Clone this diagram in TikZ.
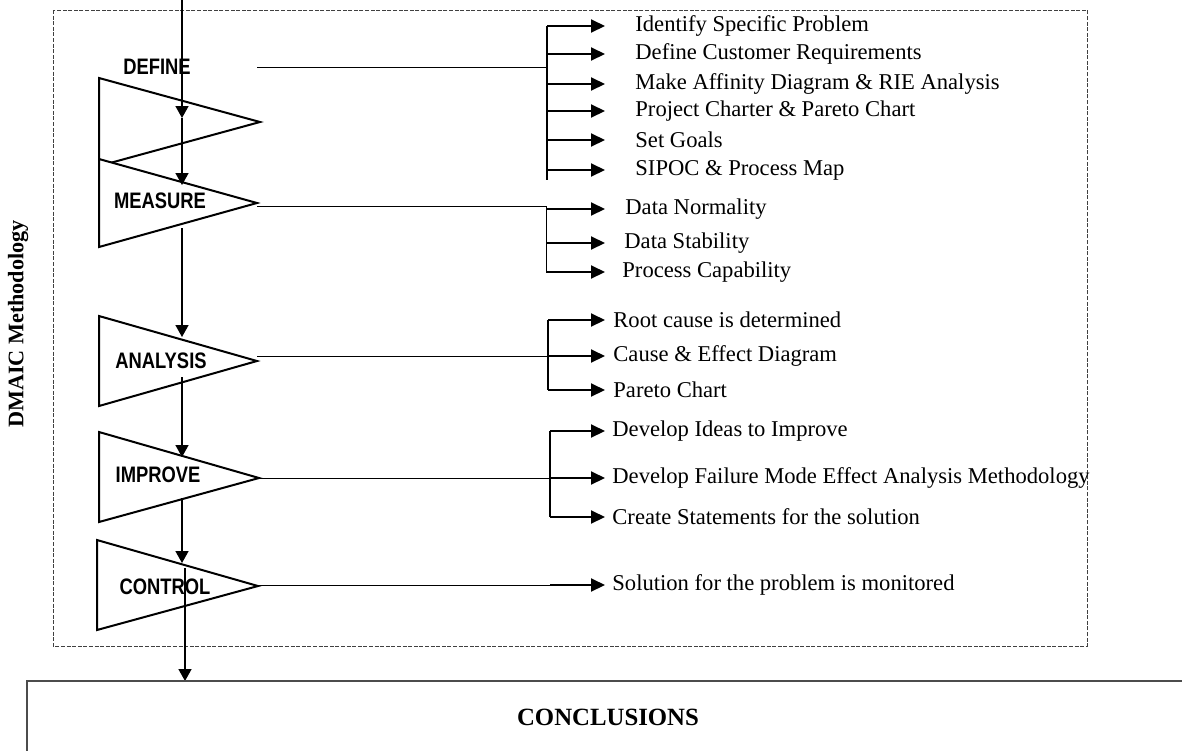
\documentclass[tikz,border=0pt]{standalone}
\usepackage{fontspec}
\setmainfont{Liberation Serif}
\newfontfamily\stagefont[FakeStretch=0.82]{Liberation Sans}
\usetikzlibrary{arrows.meta,positioning}

\tikzset{
  stage/.style={draw,line width=1pt,fill=white,line join=miter},
  stagelbl/.style={font=\stagefont\bfseries\fontsize{11.2}{13}\selectfont,inner sep=0pt},
  item/.style={anchor=west,inner sep=0pt,font=\fontsize{11.3}{13}\selectfont},
  flow/.style={line width=0.8pt,-{Triangle[length=6pt,width=6.5pt]}},
  feed/.style={line width=0.5pt},
  bus/.style={line width=1pt},
  thinbus/.style={line width=0.5pt},
  branch/.style={line width=1pt,-{Triangle[length=7pt,width=6.5pt]}}
}

\begin{document}
\begin{tikzpicture}[x=0.5pt,y=-0.5pt]
  \useasboundingbox (0,0) rectangle (1182,750);
  \clip (0,0) rectangle (1182,750);

  % Dotted frame round the five stages
  \draw[black!75,line width=0.5pt,dash pattern=on 2pt off 0.8pt] (53,10) rectangle (1087,646);
  \node[rotate=90,font=\bfseries\fontsize{11.1}{13}\selectfont] (dmaic) at (18,324) {DMAIC Methodology};

  % Stage triangles (Define sits under Measure)
  \draw[stage] (99,78) -- (260,122) -- (99,166) -- cycle;
  \draw[stage] (99,159) -- (257,203) -- (99,247) -- cycle;
  \draw[stage] (99,316) -- (257,361) -- (99,406) -- cycle;
  \draw[stage] (99,432) -- (259,478) -- (99,522) -- cycle;
  \draw[stage] (97,540) -- (258,586) -- (97,630) -- cycle;

  \node[stagelbl] (define) at (157,67) {DEFINE};
  \node[stagelbl] (measure) at (160,201) {MEASURE};
  \node[stagelbl] (analysis) at (161,361) {ANALYSIS};
  \node[stagelbl] (improve) at (158,475) {IMPROVE};
  \node[stagelbl] (control) at (165,587) {CONTROL};

  % Main flow down the stages
  \coordinate (flowIn) at (182,0);
  \coordinate (flowA) at (182,118);
  \coordinate (flowB) at (182,185);
  \coordinate (measOut) at (182,228);
  \coordinate (anaIn) at (182,337);
  \coordinate (anaOut) at (182,377);
  \coordinate (impIn) at (182,457);
  \coordinate (impOut) at (182,498);
  \coordinate (ctrlIn) at (182,563);
  \coordinate (ctrlOut) at (185,568);
  \coordinate (concTop) at (185,681);
  \draw[flow] (flowIn) -- (flowA);
  \draw[flow] (flowA) -- (flowB);
  \draw[flow] (measOut) -- (anaIn);
  \draw[flow] (anaOut) -- (impIn);
  \draw[flow] (impOut) -- (ctrlIn);
  \draw[flow] (ctrlOut) -- (concTop);

  % Define branches
  \coordinate (defOut) at (257,67);
  \coordinate (defBus) at (547,67);
  \coordinate (tipX) at (605,0);
  \node[item] (d1) at (635,26) {Identify Specific Problem};
  \node[item] (d2) at (635,54) {Define Customer Requirements};
  \node[item] (d3) at (635,84) {Make Affinity Diagram \& RIE Analysis};
  \node[item] (d4) at (635,111) {Project Charter \& Pareto Chart};
  \node[item] (d5) at (635,140) {Set Goals};
  \node[item] (d6) at (635,170) {SIPOC \& Process Map};
  \draw[feed] (defOut) -- (defBus);
  \draw[bus] (d1 -| defBus) -- ([yshift=-5pt]d6 -| defBus);
  \draw[branch] (d1 -| defBus) -- (d1 -| tipX);
  \draw[branch] (d2 -| defBus) -- (d2 -| tipX);
  \draw[branch] (d3 -| defBus) -- (d3 -| tipX);
  \draw[branch] (d4 -| defBus) -- (d4 -| tipX);
  \draw[branch] (d5 -| defBus) -- (d5 -| tipX);
  \draw[branch] (d6 -| defBus) -- (d6 -| tipX);

  % Measure branches
  \coordinate (measTip) at (257,206);
  \coordinate (measBus) at (546,206);
  \node[item] (m1) at (625,209) {Data Normality};
  \node[item] (m2) at (624,243) {Data Stability};
  \node[item] (m3) at (622,272) {Process Capability};
  \draw[feed] (measTip) -- (measBus);
  \draw[thinbus] (measBus) -- (m3 -| measBus);
  \draw[branch] (m1 -| measBus) -- (m1 -| tipX);
  \draw[branch] (m2 -| measBus) -- (m2 -| tipX);
  \draw[branch] (m3 -| measBus) -- (m3 -| tipX);

  % Analysis branches
  \coordinate (anaTip) at (257,356);
  \coordinate (anaBus) at (548,356);
  \node[item] (a1) at (613,320) {Root cause is determined};
  \node[item] (a2) at (613,356) {Cause \& Effect Diagram};
  \node[item] (a3) at (613,390) {Pareto Chart};
  \draw[feed] (anaTip) -- (anaBus);
  \draw[bus] (a1 -| anaBus) -- (a3 -| anaBus);
  \draw[branch] (a1 -| anaBus) -- (a1 -| tipX);
  \draw[branch] (a2 -| anaBus) -- (a2 -| tipX);
  \draw[branch] (a3 -| anaBus) -- (a3 -| tipX);

  % Improve branches
  \coordinate (impTip) at (259,478);
  \coordinate (impBus) at (550,478);
  \node[item] (i1) at (612,431) {Develop Ideas to Improve};
  \node[item] (i2) at (612,478) {Develop Failure Mode Effect Analysis Methodology};
  \node[item] (i3) at (612,517) {Create Statements for the solution};
  \draw[feed] (impTip) -- (impBus);
  \draw[bus] (i1 -| impBus) -- (i3 -| impBus);
  \draw[branch] (i1 -| impBus) -- (i1 -| tipX);
  \draw[branch] (i2 -| impBus) -- (i2 -| tipX);
  \draw[branch] (i3 -| impBus) -- (i3 -| tipX);

  % Control branch
  \coordinate (ctrlTip) at (258,585);
  \coordinate (ctrlBus) at (550,585);
  \node[item] (c1) at (612,585) {Solution for the problem is monitored};
  \draw[feed] (ctrlTip) -- (ctrlBus);
  \draw[branch] (ctrlBus) -- (c1 -| tipX);

  % Conclusions box (runs past the lower edge)
  \draw[black!70,line width=1pt] (27,770) |- (1195,681);
  \node[font=\bfseries\fontsize{12.4}{14}\selectfont] (concl) at (608,717) {CONCLUSIONS};
\end{tikzpicture}
\end{document}
